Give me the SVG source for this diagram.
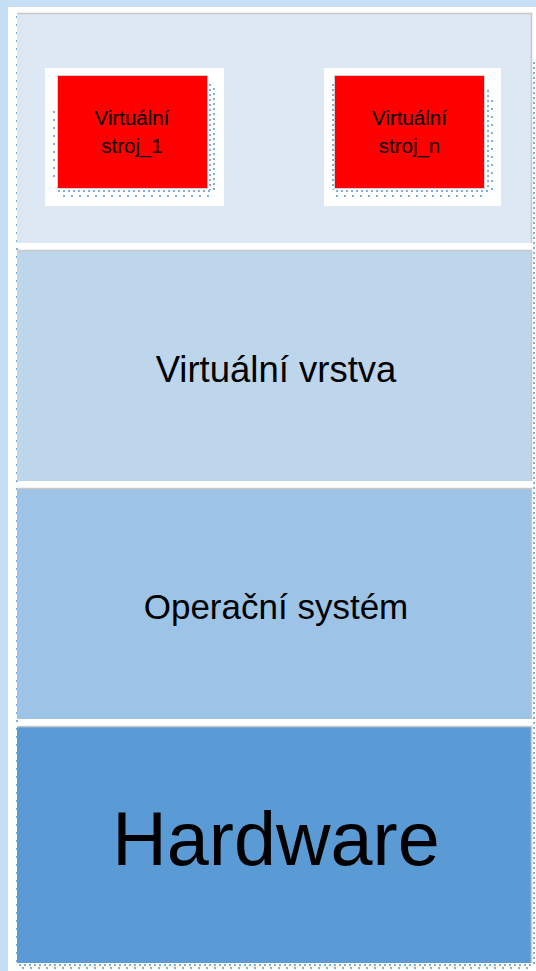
<svg xmlns="http://www.w3.org/2000/svg" width="536" height="971" viewBox="0 0 536 971">
<defs>
<style>
.txt{font-family:"Liberation Sans",Arial,Helvetica,sans-serif;fill:#000;text-anchor:middle}
.dots{fill:none;stroke:#7fb0dc;stroke-width:2;stroke-dasharray:2 6}
.dotsf{fill:none;stroke:#7fb0dc;stroke-width:2;stroke-dasharray:2 3}
.panel{stroke:none}
.edge{fill:none;stroke:#c8c8c8;stroke-width:1.5}
</style>
</defs>
<rect x="0" y="0" width="536" height="971" fill="#c7dff4"/>
<rect x="8" y="7" width="528" height="964" fill="#ffffff"/>
<g id="dotted-frame">
<line class="dots" x1="17" y1="16" x2="17" y2="964"/>
<line class="dotsf" x1="534" y1="62" x2="534" y2="964"/>
<line class="dotsf" x1="19" y1="965" x2="534" y2="965"/>
<line class="dots" x1="22" y1="968" x2="534" y2="968"/>
</g>
<g id="layer-vms">
<rect class="panel" x="17" y="13" width="515" height="230" fill="#dde8f4"/>
<polyline class="edge" points="17,13.5 531.5,13.5 531.5,243"/>
</g>
<g id="layer-virtual">
<rect class="panel" x="17" y="250" width="515" height="231" fill="#bdd6ec"/>
<polyline class="edge" points="17,250.5 531.5,250.5 531.5,481"/>
<text class="txt" x="276" y="382" font-size="36.5">Virtuální vrstva</text>
</g>
<g id="layer-os">
<rect class="panel" x="17" y="488" width="515" height="231" fill="#9dc3e6"/>
<polyline class="edge" points="17,488.5 531.5,488.5 531.5,719"/>
<text class="txt" x="276" y="619" font-size="35">Operační systém</text>
</g>
<g id="layer-hw">
<rect class="panel" x="17" y="726" width="515" height="237" fill="#5b9bd5"/>
<polyline class="edge" points="17,726.5 531.5,726.5 531.5,963"/>
<text class="txt" x="276" y="865" font-size="75.5">Hardware</text>
</g>
<g id="vm1">
<rect x="45" y="68" width="179" height="138" fill="#ffffff"/>
<line class="dots" x1="54" y1="111" x2="54" y2="180" stroke-dasharray="2 31"/>
<line class="dotsf" x1="210" y1="84" x2="210" y2="190"/>
<line class="dotsf" x1="214" y1="88" x2="214" y2="190"/>
<line class="dotsf" x1="58" y1="191" x2="210" y2="191"/>
<line class="dots" x1="63" y1="196" x2="210" y2="196"/>
<rect x="57.5" y="75.5" width="150" height="113" fill="#ff0000" stroke="#d0d0d0" stroke-width="1"/>
<text class="txt" x="132" y="125" font-size="20.5">Virtuální</text>
<text class="txt" x="132" y="153" font-size="20.5">stroj_1</text>
</g>
<g id="vmn">
<rect x="324" y="68" width="177" height="138" fill="#ffffff"/>
<line class="dotsf" x1="333" y1="84" x2="333" y2="190"/>
<line class="dotsf" x1="488" y1="90" x2="488" y2="190"/>
<line class="dots" x1="492" y1="100" x2="492" y2="190"/>
<line class="dotsf" x1="336" y1="191" x2="488" y2="191"/>
<line class="dots" x1="336" y1="196" x2="488" y2="196"/>
<rect x="334.5" y="75.5" width="150" height="113" fill="#ff0000" stroke="#d0d0d0" stroke-width="1"/>
<text class="txt" x="409.5" y="125" font-size="20.5">Virtuální</text>
<text class="txt" x="409.5" y="153" font-size="20.5">stroj_n</text>
</g>
</svg>
